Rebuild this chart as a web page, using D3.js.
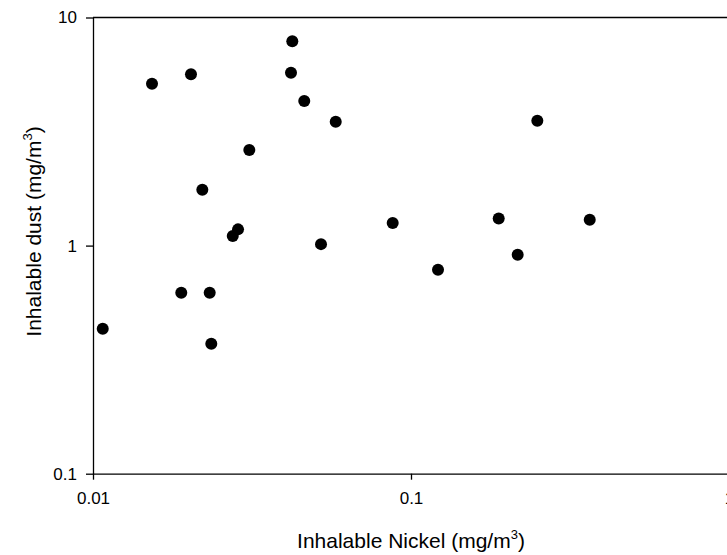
<!DOCTYPE html>
<html><head><meta charset="utf-8">
<script src="https://cdn.jsdelivr.net/npm/d3@7"></script>
<style>body{margin:0;background:#fff}svg{display:block}text{font-family:"Liberation Sans",Arial,sans-serif}</style>
</head><body>
<svg id="c" width="727" height="555"></svg>
<script>
const nickel = [0.01073,0.01533,0.02033,0.01895,0.02207,0.02328,0.02355,0.02751,0.02858,0.03101,0.04194,0.04234,0.04617,0.05212,0.05798,0.08759,0.1216,0.1887,0.2165,0.2496,0.3648];
const dust   = [0.4315,5.124,5.635,0.621,1.757,0.621,0.371,1.101,1.178,2.624,5.726,7.863,4.302,1.015,3.491,1.255,0.783,1.316,0.911,3.527,1.298];
const xTicks = [0.01,0.1,1];
const xTickLabels = ["0.01","0.1","1"];
const yTicks = [0.1,1,10];
const yTickLabels = ["0.1","1","10"];

const svg = d3.select("#c");
const L=93, R=729, T=17.5, B=473.7;
const x = d3.scaleLog().domain([0.01,1]).range([L,R]);
const y = d3.scaleLog().domain([0.1,10]).range([B,T]);

svg.append("line").attr("x1",L).attr("x2",R).attr("y1",T).attr("y2",T).attr("stroke","#000").attr("stroke-width",1.3);

const xa = svg.append("g").attr("transform",`translate(0,${B})`)
  .call(d3.axisBottom(x).tickValues(xTicks).tickFormat((d,i)=>xTickLabels[i]).tickSize(6).tickSizeOuter(0).tickPadding(12));
const ya = svg.append("g").attr("transform",`translate(${L},0)`)
  .call(d3.axisLeft(y).tickValues(yTicks).tickFormat((d,i)=>yTickLabels[i]).tickSize(7).tickSizeOuter(0).tickPadding(9));
[xa,ya].forEach(g=>{
  g.select(".domain").attr("stroke","#000").attr("stroke-width",1.3);
  g.selectAll(".tick line").attr("stroke","#000").attr("stroke-width",1.3);
  g.selectAll(".tick text").attr("font-size",17).attr("fill","#000").attr("font-family","Liberation Sans, Arial, sans-serif");
});

svg.append("g").selectAll("circle").data(nickel.map((v,i)=>[v,dust[i]])).join("circle")
  .attr("cx",d=>x(d[0])).attr("cy",d=>y(d[1])).attr("r",6).attr("fill","#000");

const xt = svg.append("text").attr("x",(L+R)/2).attr("y",548).attr("text-anchor","middle").attr("font-size",21);
xt.append("tspan").text("Inhalable Nickel (mg/m");
xt.append("tspan").attr("font-size",13).attr("dy",-9).text("3");
xt.append("tspan").attr("dy",9).text(")");

const yt = svg.append("text").attr("transform",`translate(41,231.5) rotate(-90)`).attr("text-anchor","middle").attr("font-size",21);
yt.append("tspan").text("Inhalable dust (mg/m");
yt.append("tspan").attr("font-size",13).attr("dy",-9).text("3");
yt.append("tspan").attr("dy",9).text(")");
</script>
</body></html>
